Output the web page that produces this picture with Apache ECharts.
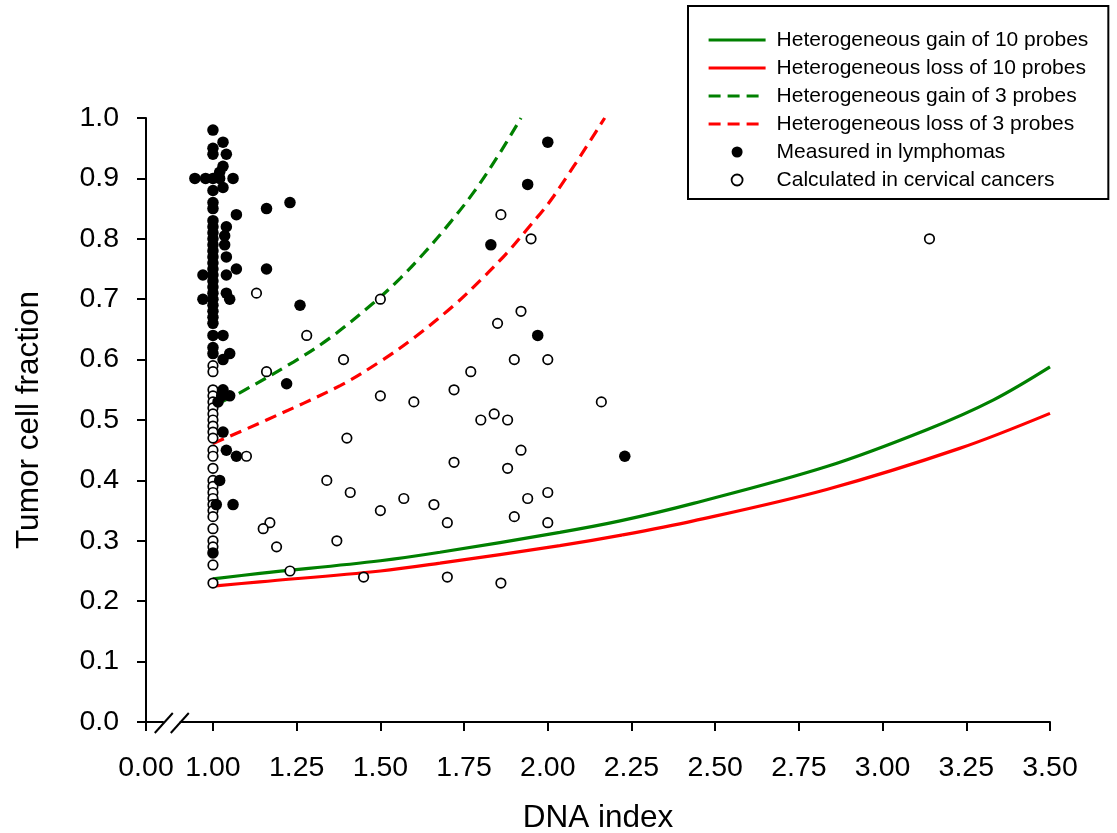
<!DOCTYPE html>
<html><head><meta charset="utf-8">
<script src="https://cdn.jsdelivr.net/npm/echarts@6/dist/echarts.min.js"></script>
<style>html,body{margin:0;padding:0;background:#fff}#c{width:1117px;height:833px}</style>
</head><body><div id="c"></div><script>
// ---- data ----
const xTickValues = [0.8, 1.0, 1.25, 1.5, 1.75, 2.0, 2.25, 2.5, 2.75, 3.0, 3.25, 3.5];
const xTickLabels = ['0.00','1.00','1.25','1.50','1.75','2.00','2.25','2.50','2.75','3.00','3.25','3.50'];
const seriesNames = ['Heterogeneous gain of 10 probes','Heterogeneous loss of 10 probes','Heterogeneous gain of 3 probes','Heterogeneous loss of 3 probes','Measured in lymphomas','Calculated in cervical cancers'];

const gain10 = [[1.0,0.237],[1.14,0.246],[1.5,0.267],[1.678,0.281],[2.036,0.314],[2.216,0.333],[2.435,0.362],[2.833,0.423],[3.132,0.484],[3.33,0.533],[3.5,0.588]];
const loss10 = [[1.0,0.225],[1.14,0.232],[1.5,0.250],[1.678,0.263],[2.036,0.292],[2.216,0.309],[2.435,0.333],[2.833,0.385],[3.23,0.453],[3.5,0.511]];
const gain3 = [[1.026,0.530],[1.08,0.545],[1.24,0.596],[1.35,0.636],[1.48,0.694],[1.56,0.735],[1.63,0.776],[1.71,0.828],[1.78,0.878],[1.85,0.936],[1.92,1.0]];
const loss3 = [[1.0,0.461],[1.16,0.500],[1.38,0.557],[1.50,0.597],[1.60,0.636],[1.72,0.690],[1.80,0.732],[1.877,0.776],[1.937,0.815],[2.017,0.870],[2.17,1.0]];

const cervical = [
 [1.0,0.59],[1.0,0.58],[1.0,0.55],[1.0,0.54],[1.0,0.53],[1.0,0.52],[1.0,0.51],[1.0,0.50],[1.0,0.49],[1.0,0.48],[1.0,0.47],
 [1.0,0.45],[1.0,0.44],[1.0,0.42],[1.0,0.40],[1.0,0.39],[1.0,0.38],[1.0,0.37],[1.0,0.36],[1.0,0.35],[1.0,0.34],[1.0,0.32],
 [1.0,0.30],[1.0,0.29],[1.0,0.26],[1.0,0.23],
 [1.13,0.71],[1.50,0.70],[1.28,0.64],[1.39,0.60],[1.16,0.58],[1.50,0.54],[1.60,0.53],[1.72,0.55],[1.77,0.58],[1.86,0.84],
 [1.95,0.80],[1.92,0.68],[1.85,0.66],[1.90,0.60],[2.00,0.60],[2.16,0.53],[1.80,0.50],[1.84,0.51],[1.88,0.50],[1.10,0.44],
 [1.40,0.47],[1.72,0.43],[1.88,0.42],[1.92,0.45],[1.34,0.40],[1.41,0.38],[1.57,0.37],[1.66,0.36],[1.50,0.35],[1.70,0.33],
 [1.94,0.37],[2.00,0.38],[1.90,0.34],[2.00,0.33],[1.17,0.33],[1.15,0.32],[1.19,0.29],[1.37,0.30],[1.23,0.25],[1.45,0.24],
 [1.70,0.24],[1.86,0.23],[3.14,0.80]
];
const lymphomas = [
 [1.0,0.98],[1.0,0.95],[1.0,0.94],[1.0,0.90],[1.0,0.88],[1.0,0.86],[1.0,0.85],[1.0,0.83],[1.0,0.82],[1.0,0.81],[1.0,0.80],
 [1.0,0.79],[1.0,0.78],[1.0,0.77],[1.0,0.76],[1.0,0.75],[1.0,0.74],[1.0,0.73],[1.0,0.72],[1.0,0.71],[1.0,0.70],[1.0,0.69],
 [1.0,0.68],[1.0,0.67],[1.0,0.66],[1.0,0.64],[1.0,0.62],[1.0,0.61],[1.0,0.28],
 [1.03,0.96],[1.04,0.94],[1.03,0.92],[1.02,0.91],[0.946,0.90],[0.978,0.90],[1.02,0.90],[1.06,0.90],[1.03,0.885],[1.07,0.84],
 [1.16,0.85],[1.23,0.86],[1.04,0.82],[1.035,0.805],[1.035,0.79],[1.04,0.77],[1.07,0.75],[1.16,0.75],[0.97,0.74],[1.04,0.74],
 [1.04,0.71],[0.97,0.70],[1.05,0.70],[1.26,0.69],[1.03,0.64],[1.05,0.61],[1.03,0.60],[1.03,0.55],[1.026,0.54],[1.05,0.54],
 [1.015,0.53],[1.03,0.48],[1.04,0.45],[1.07,0.44],[1.02,0.40],[1.01,0.36],[1.06,0.36],[1.22,0.56],[1.83,0.79],[1.94,0.89],
 [2.00,0.96],[1.97,0.64],[2.23,0.44]
];
const breakAt = 0.877; // x-axis break position (decoration)

// ---- chart ----
const FONT = 'Liberation Sans, Arial, sans-serif';
const GREEN = '#008000', RED = '#ff0000';
const chart = echarts.init(document.getElementById('c'), null, {renderer: 'canvas'});

function lineSeries(name, data, color, dashed) {
  return {
    name, type: 'line', data, smooth: 0.35, showSymbol: false, symbol: 'none',
    lineStyle: {color, width: 3.2, type: dashed ? [12, 7] : 'solid'},
    itemStyle: {color}, z: 2, silent: true
  };
}
const hiddenDot = {color: 'rgba(0,0,0,0)', borderWidth: 0, opacity: 0};

chart.setOption({
  animation: false,
  backgroundColor: '#fff',
  textStyle: {fontFamily: FONT},
  grid: {left: 146, right: 67, top: 118, bottom: 111, containLabel: false, outerBoundsMode: 'none'},
  legend: {
    orient: 'vertical', left: 688, top: 6,
    padding: [23, 20, 8, 19],
    itemWidth: 57, itemHeight: 11, itemGap: 6,
    borderColor: '#000', borderWidth: 2, borderRadius: 0,
    backgroundColor: '#fff',
    lineStyle: {width: 3.2},
    textStyle: {fontFamily: FONT, fontSize: 21, color: '#000', lineHeight: 22, padding: [0, 0, 0, 6]},
    data: [
      {name: seriesNames[0], itemStyle: hiddenDot}, {name: seriesNames[1], itemStyle: hiddenDot},
      {name: seriesNames[2], itemStyle: hiddenDot}, {name: seriesNames[3], itemStyle: hiddenDot},
      {name: seriesNames[4], icon: 'circle', itemStyle: {color: '#000', borderWidth: 0}},
      {name: seriesNames[5], icon: 'circle', itemStyle: {color: '#fff', borderColor: '#000', borderWidth: 1.8}}
    ]
  },
  xAxis: {
    type: 'value', min: 0.8, max: 3.5,
    name: 'DNA index', nameLocation: 'middle', nameGap: 80,
    nameTextStyle: {fontFamily: FONT, fontSize: 31.5, color: '#000'},
    axisLine: {show: true, onZero: false, lineStyle: {color: '#000', width: 2}},
    axisTick: {show: true, length: 9, customValues: xTickValues, lineStyle: {color: '#000', width: 2}},
    axisLabel: {
      customValues: xTickValues, margin: 32, fontFamily: FONT, fontSize: 28.5, color: '#000',
      formatter: v => { const i = xTickValues.findIndex(t => Math.abs(t - v) < 1e-6); return i >= 0 ? xTickLabels[i] : ''; }
    },
    splitLine: {show: false}
  },
  yAxis: {
    type: 'value', min: 0, max: 1, interval: 0.1,
    name: 'Tumor cell fraction', nameLocation: 'middle', nameGap: 101,
    nameTextStyle: {fontFamily: FONT, fontSize: 31.5, color: '#000'},
    axisLine: {show: true, onZero: false, lineStyle: {color: '#000', width: 2}},
    axisTick: {show: true, length: 9, lineStyle: {color: '#000', width: 2}},
    axisLabel: {margin: 27, fontFamily: FONT, fontSize: 28.5, color: '#000', formatter: v => v.toFixed(1)},
    splitLine: {show: false}
  },
  series: [
    lineSeries(seriesNames[0], gain10, GREEN, false),
    lineSeries(seriesNames[1], loss10, RED, false),
    lineSeries(seriesNames[2], gain3, GREEN, true),
    lineSeries(seriesNames[3], loss3, RED, true),
    {name: seriesNames[4], type: 'scatter', data: lymphomas, symbol: 'circle', symbolSize: 11.5,
     itemStyle: {color: '#000', opacity: 1}, z: 4, silent: true},
    {name: seriesNames[5], type: 'scatter', data: cervical, symbol: 'circle', symbolSize: 9.5,
     itemStyle: {color: '#fff', borderColor: '#000', borderWidth: 1.7, opacity: 1}, z: 3, silent: true}
  ]
});

// axis break marks (decoration) placed through the axis scale
const bp = chart.convertToPixel({gridIndex: 0}, [breakAt, 0]);
chart.setOption({
  graphic: [
    {type: 'rect', shape: {x: bp[0] - 8, y: bp[1] - 3, width: 16, height: 6}, style: {fill: '#fff'}, z: 100},
    {type: 'line', shape: {x1: bp[0] - 17, y1: bp[1] + 11, x2: bp[0] + 1, y2: bp[1] - 9}, style: {stroke: '#000', lineWidth: 2}, z: 101},
    {type: 'line', shape: {x1: bp[0] - 1, y1: bp[1] + 11, x2: bp[0] + 17, y2: bp[1] - 9}, style: {stroke: '#000', lineWidth: 2}, z: 101}
  ]
});
</script></body></html>
